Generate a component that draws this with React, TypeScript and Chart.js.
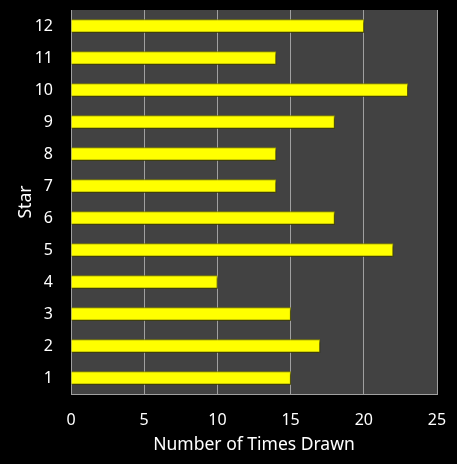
import { useEffect, useRef } from "react";
import { Chart, registerables } from "chart.js";

Chart.register(...registerables);

const stars = ["1", "2", "3", "4", "5", "6", "7", "8", "9", "10", "11", "12"];
const timesDrawn = [15, 17, 15, 10, 22, 18, 14, 14, 18, 23, 14, 20];
const xTicks = [0, 5, 10, 15, 20, 25];

const FONT = "'Noto Sans', 'Open Sans', sans-serif";

// grey plot area + soft shadow under the bars
const plotBackground = {
  id: "plotBackground",
  beforeDraw(chart: Chart) {
    const { ctx, chartArea } = chart;
    ctx.save();
    ctx.fillStyle = "#424242";
    ctx.fillRect(
      chartArea.left,
      chartArea.top,
      chartArea.right - chartArea.left,
      chartArea.bottom - chartArea.top
    );
    ctx.restore();
  },
  beforeDatasetsDraw(chart: Chart) {
    const ctx = chart.ctx;
    ctx.save();
    ctx.shadowColor = "rgba(0, 0, 0, 0.6)";
    ctx.shadowOffsetX = 1;
    ctx.shadowOffsetY = 2;
    ctx.shadowBlur = 2;
  },
  afterDatasetsDraw(chart: Chart) {
    chart.ctx.restore();
  },
};

export default function App() {
  const chartRef = useRef<HTMLCanvasElement>(null);
  const chartInstance = useRef<Chart | null>(null);

  useEffect(() => {
    if (!chartRef.current) return;
    if (chartInstance.current) chartInstance.current.destroy();

    const ctx = chartRef.current.getContext("2d");
    if (!ctx) return;

    chartInstance.current = new Chart(ctx, {
      type: "bar",
      data: {
        labels: stars,
        datasets: [
          {
            label: "Number of Times Drawn",
            data: timesDrawn,
            backgroundColor: "#ffff00",
            borderColor: "#8f8f00",
            borderWidth: 1,
            barThickness: 13,
          },
        ],
      },
      plugins: [plotBackground],
      options: {
        indexAxis: "y",
        animation: false,
        responsive: true,
        maintainAspectRatio: false,
        layout: { padding: { top: 10, right: 20, left: 0, bottom: 0 } },
        plugins: {
          legend: { display: false },
          tooltip: { enabled: false },
        },
        scales: {
          x: {
            min: 0,
            max: 25,
            afterBuildTicks: (axis) => {
              axis.ticks = xTicks.map((v) => ({ value: v }));
            },
            afterFit: (axis) => {
              axis.height = 70;
              axis.paddingLeft = 0;
              axis.paddingRight = 0;
            },
            grid: { color: "#a0a0a0", drawTicks: false },
            border: { display: true, color: "#a0a0a0" },
            ticks: {
              color: "#ffffff",
              padding: 17,
              font: { family: FONT, size: 16 },
            },
            title: {
              display: true,
              text: "Number of Times Drawn",
              color: "#ffffff",
              padding: { top: 0, bottom: 8 },
              font: { family: FONT, size: 17.5 },
            },
          },
          y: {
            reverse: true,
            afterFit: (axis) => {
              axis.width = 71;
              axis.paddingTop = 0;
              axis.paddingBottom = 0;
            },
            grid: { display: false, drawTicks: false },
            border: { display: true, color: "#a0a0a0" },
            ticks: {
              color: "#ffffff",
              padding: 18,
              font: { family: FONT, size: 16 },
            },
            title: {
              display: true,
              text: "Star",
              color: "#ffffff",
              padding: { top: 16, bottom: 0 },
              font: { family: FONT, size: 17.5 },
            },
          },
        },
      },
    });

    return () => {
      if (chartInstance.current) {
        chartInstance.current.destroy();
        chartInstance.current = null;
      }
    };
  }, []);

  return (
    <div
      style={{
        position: "fixed",
        left: 0,
        top: 0,
        width: 457,
        height: 464,
        background: "#000000",
      }}
    >
      <canvas ref={chartRef}></canvas>
    </div>
  );
}
